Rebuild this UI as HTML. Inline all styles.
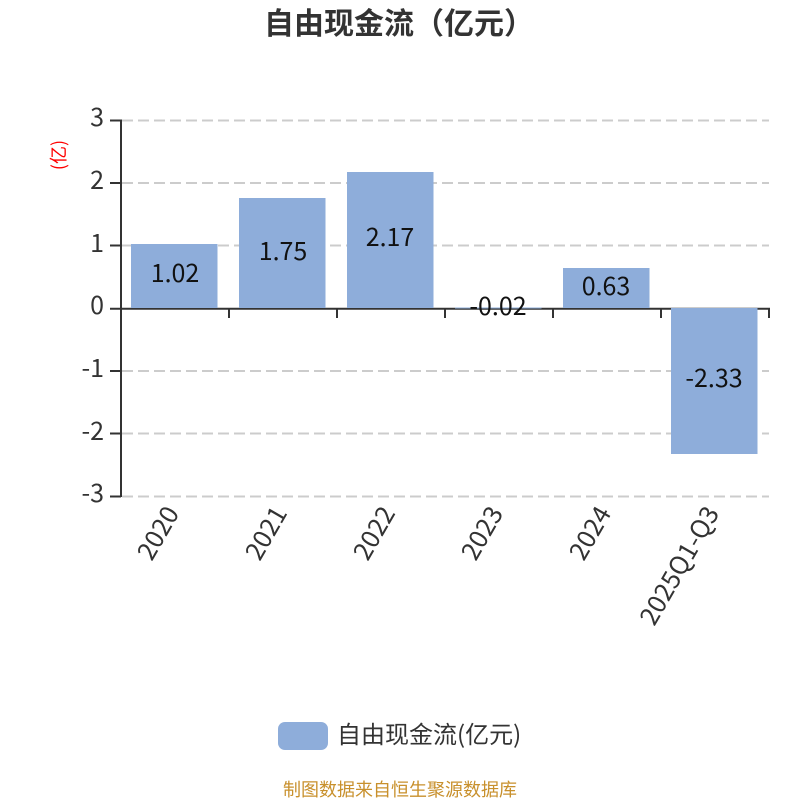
<!DOCTYPE html>
<html><head><meta charset="utf-8">
<style>
html,body{margin:0;padding:0;background:#fff;width:800px;height:800px;overflow:hidden}
svg{display:block}
text{font-family:"Noto Sans CJK SC","WenQuanYi Zen Hei",sans-serif}
</style></head><body>
<svg width="800" height="800" viewBox="0 0 800 800" xmlns="http://www.w3.org/2000/svg">
<rect width="800" height="800" fill="#fff"/>
<text x="393" y="34" font-size="30" font-weight="700" fill="#333" text-anchor="middle" dx="6">自由现金流（亿元）</text>
<text transform="translate(65,155) rotate(-90)" text-anchor="middle" font-size="18" fill="#f00">(亿)</text>
<g stroke="#ccc" stroke-width="2" stroke-dasharray="11 5" fill="none">
<path d="M122 120.500H769M122 183H769M122 245.500H769M122 371H769M122 433.500H769M122 496.500H769"/>
</g>
<g stroke="#333" stroke-width="2" fill="none">
<path d="M121 119.500V497"/>
<path d="M110 120.500H121M110 183H121M110 245.500H121M110 308.700H121M110 371H121M110 433.500H121M110 496.500H121"/>
<path d="M121 308.700H770"/>
<path d="M229 308V318M337 308V318M445 308V318M553 308V318M661 308V318M769 308V318"/>
</g>
<g fill="#8eadda">
<rect x="131" y="244" width="86.500" height="64"/>
<rect x="239" y="198" width="86.500" height="110"/>
<rect x="347" y="172" width="86.500" height="136"/>
<rect x="455" y="307.500" width="86.500" height="1"/>
<rect x="563" y="268" width="86.500" height="40"/>
<rect x="671" y="308" width="86.500" height="146"/>
</g>
<g font-size="25" fill="#333" text-anchor="end">
<text x="104" y="126">3</text>
<text x="104" y="189">2</text>
<text x="104" y="252">1</text>
<text x="104" y="314">0</text>
<text x="104" y="377">-1</text>
<text x="104" y="440">-2</text>
<text x="104" y="502">-3</text>
</g>
<g font-size="25" fill="#111" text-anchor="middle">
<text x="175" y="282">1.02</text>
<text x="283" y="260">1.75</text>
<text x="390" y="246">2.17</text>
<text x="498" y="315">-0.02</text>
<text x="606" y="295">0.63</text>
<text x="714" y="387">-2.33</text>
</g>
<g font-size="25.500" fill="#333" text-anchor="end">
<text transform="translate(180,513) rotate(-60)">2020</text>
<text transform="translate(288,513) rotate(-60)">2021</text>
<text transform="translate(396,513) rotate(-60)">2022</text>
<text transform="translate(504,513) rotate(-60)">2023</text>
<text transform="translate(612,513) rotate(-60)">2024</text>
<text transform="translate(720,513) rotate(-60)">2025Q1-Q3</text>
</g>
<rect x="278" y="722" width="50" height="28" rx="7" fill="#8eadda"/>
<text x="337" y="743" font-size="24" fill="#333">自由现金流(亿元)</text>
<text x="400" y="796" text-anchor="middle" font-size="18" fill="#c8902c">制图数据来自恒生聚源数据库</text>
</svg>
</body></html>
